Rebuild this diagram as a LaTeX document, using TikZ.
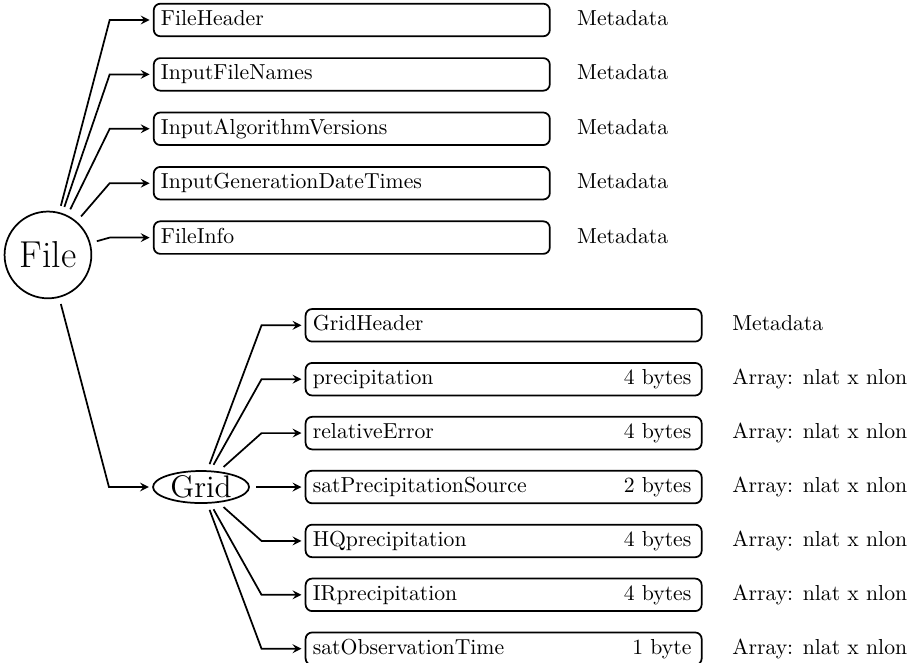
\documentclass[tikz,border=0pt]{standalone}
\usepackage{amsmath, amssymb, graphicx, tikz}
\usetikzlibrary{positioning, shapes.geometric}

\tikzset{
    field/.style={draw, thick, rectangle, rounded corners=3pt, align=left, text width=175.9pt,
        inner xsep=3.33pt, inner ysep=3pt, text height=7pt, text depth=2pt},
    note/.style={inner sep=0pt, text height=7pt, text depth=2pt},
    link/.style={->, >=stealth, thick, shorten <=3pt, shorten >=1.5pt},
}

\begin{document}
\begin{tikzpicture}
    \useasboundingbox (-0.777,4.13) rectangle (14.03,-6.61);

    % File level
    \node[draw, thick, circle, minimum size=40pt, inner sep=0pt, font=\LARGE] (file) at (0,0) {File};
    \node[field, anchor=west] (fheader) at (1.70,3.806) {FileHeader};
    \node[field, below=0.326cm of fheader] (fnames) {InputFileNames};
    \node[field, below=0.326cm of fnames] (algver) {InputAlgorithmVersions};
    \node[field, below=0.326cm of algver] (gendate) {InputGenerationDateTimes};
    \node[field, below=0.326cm of gendate] (finfo) {FileInfo};

    \node[note, right=12pt of fheader, anchor=west] (fheadernote) {Metadata};
    \node[note, right=12pt of fnames, anchor=west] (fnamesnote) {Metadata};
    \node[note, right=12pt of algver, anchor=west] (algvernote) {Metadata};
    \node[note, right=12pt of gendate, anchor=west] (gendatenote) {Metadata};
    \node[note, right=12pt of finfo, anchor=west] (finfonote) {Metadata};

    % Grid level
    \node[draw, thick, ellipse, inner xsep=1.5pt, inner ysep=0pt, font=\Large] (grid) at (2.48,-3.76) {Grid};
    \node[field, anchor=west] (satsrc) at (4.16,-3.76) {satPrecipitationSource\hfill 2 bytes\kern1.4pt};
    \node[field, above=0.318cm of satsrc] (relerr) {relativeError\hfill 4 bytes\kern1.4pt};
    \node[field, above=0.318cm of relerr] (precip) {precipitation\hfill 4 bytes\kern1.4pt};
    \node[field, above=0.318cm of precip] (gheader) {GridHeader};
    \node[field, below=0.318cm of satsrc] (hqprecip) {HQprecipitation\hfill 4 bytes\kern1.4pt};
    \node[field, below=0.318cm of hqprecip] (irprecip) {IRprecipitation\hfill 4 bytes\kern1.4pt};
    \node[field, below=0.318cm of irprecip] (obstime) {satObservationTime\hfill 1 byte\kern1.4pt};

    \node[note, right=13.5pt of gheader, anchor=west] (gheadernote) {Metadata};
    \node[note, right=13.5pt of precip, anchor=west] (precipnote) {Array: nlat x nlon};
    \node[note, right=13.5pt of relerr, anchor=west] (relerrnote) {Array: nlat x nlon};
    \node[note, right=13.5pt of satsrc, anchor=west] (satsrcnote) {Array: nlat x nlon};
    \node[note, right=13.5pt of hqprecip, anchor=west] (hqprecipnote) {Array: nlat x nlon};
    \node[note, right=13.5pt of irprecip, anchor=west] (irprecipnote) {Array: nlat x nlon};
    \node[note, right=13.5pt of obstime, anchor=west] (obstimenote) {Array: nlat x nlon};

    % Branches
    \draw[link] (file) -- ([xshift=-0.7cm]fheader.west) -- (fheader.west);
    \draw[link] (file) -- ([xshift=-0.7cm]fnames.west) -- (fnames.west);
    \draw[link] (file) -- ([xshift=-0.7cm]algver.west) -- (algver.west);
    \draw[link] (file) -- ([xshift=-0.7cm]gendate.west) -- (gendate.west);
    \draw[link] (file) -- ([xshift=-0.7cm]finfo.west) -- (finfo.west);
    \draw[link] (file) -- ([xshift=-0.7cm]grid.west) -- (grid.west);

    \draw[link] (grid) -- ([xshift=-0.7cm]gheader.west) -- (gheader.west);
    \draw[link] (grid) -- ([xshift=-0.7cm]precip.west) -- (precip.west);
    \draw[link] (grid) -- ([xshift=-0.7cm]relerr.west) -- (relerr.west);
    \draw[link] (grid) -- ([xshift=-0.7cm]satsrc.west) -- (satsrc.west);
    \draw[link] (grid) -- ([xshift=-0.7cm]hqprecip.west) -- (hqprecip.west);
    \draw[link] (grid) -- ([xshift=-0.7cm]irprecip.west) -- (irprecip.west);
    \draw[link] (grid) -- ([xshift=-0.7cm]obstime.west) -- (obstime.west);
\end{tikzpicture}
\end{document}
